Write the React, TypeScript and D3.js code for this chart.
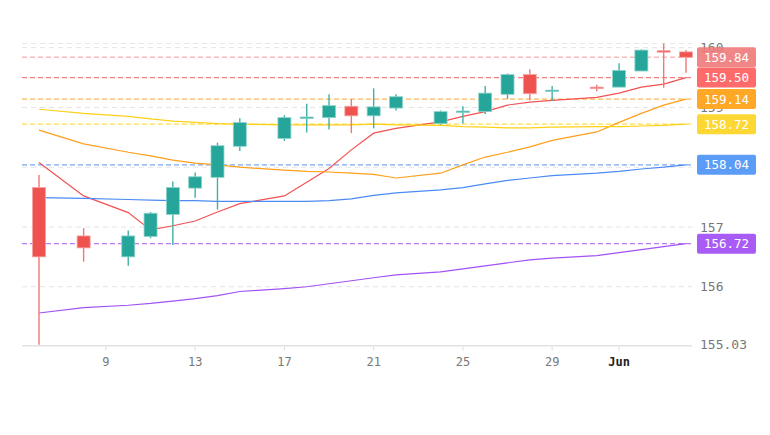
import React from "react";
import * as d3 from "d3";

const width = 770;
const height = 435;

// daily bars
const days = [
  "2024-05-06", "2024-05-08", "2024-05-10", "2024-05-11", "2024-05-12", "2024-05-13",
  "2024-05-14", "2024-05-15", "2024-05-17", "2024-05-18", "2024-05-19", "2024-05-20",
  "2024-05-21", "2024-05-22", "2024-05-24", "2024-05-25", "2024-05-26", "2024-05-27",
  "2024-05-28", "2024-05-29", "2024-05-31", "2024-06-01", "2024-06-02", "2024-06-03",
  "2024-06-04",
];
const opens = [157.66, 156.85, 156.5, 156.84, 157.21, 157.65, 157.83, 158.35, 158.48, 158.82, 158.83, 159.02, 158.86, 158.99, 158.73, 158.92, 158.93, 159.22, 159.55, 159.27, 159.34, 159.34, 159.61, 159.95, 159.93];
const highs = [157.87, 156.98, 156.94, 157.25, 157.76, 157.91, 158.41, 158.82, 158.87, 159.06, 159.22, 159.14, 159.32, 159.22, 158.95, 159.02, 159.36, 159.57, 159.64, 159.36, 159.38, 159.74, 159.97, 160.07, 159.96];
const lows = [155.03, 156.42, 156.35, 156.81, 156.7, 157.49, 157.29, 158.27, 158.44, 158.58, 158.63, 158.57, 158.65, 158.95, 158.71, 158.73, 158.89, 159.14, 159.12, 159.11, 159.27, 159.34, 159.61, 159.33, 159.58];
const closes = [156.5, 156.65, 156.85, 157.23, 157.66, 157.84, 158.36, 158.75, 158.83, 158.84, 159.03, 158.86, 159.01, 159.18, 158.93, 158.94, 159.24, 159.55, 159.23, 159.29, 159.33, 159.62, 159.96, 159.93, 159.84];

// indicator lines
const redLine = [158.08, 157.52, 157.24, 156.95, 157.02, 157.1, 157.25, 157.39, 157.52, 157.75, 157.98, 158.29, 158.57, 158.65, 158.76, 158.85, 158.93, 159.04, 159.09, 159.12, 159.17, 159.24, 159.34, 159.39, 159.5];
const orangeLine = [158.62, 158.39, 158.25, 158.19, 158.12, 158.07, 158.04, 158.0, 157.95, 157.93, 157.92, 157.9, 157.88, 157.82, 157.9, 158.04, 158.17, 158.25, 158.34, 158.45, 158.59, 158.75, 158.9, 159.04, 159.14];
const yellowLine = [158.97, 158.9, 158.85, 158.81, 158.77, 158.75, 158.73, 158.72, 158.71, 158.71, 158.71, 158.71, 158.72, 158.71, 158.7, 158.68, 158.67, 158.66, 158.66, 158.67, 158.68, 158.68, 158.69, 158.7, 158.72];
const blueLine = [157.49, 157.48, 157.46, 157.45, 157.44, 157.44, 157.43, 157.43, 157.43, 157.43, 157.44, 157.47, 157.53, 157.57, 157.62, 157.66, 157.72, 157.78, 157.82, 157.86, 157.9, 157.93, 157.97, 158.0, 158.04];
const purpleLine = [155.56, 155.65, 155.69, 155.72, 155.76, 155.8, 155.85, 155.92, 155.97, 156.0, 156.05, 156.1, 156.15, 156.2, 156.25, 156.3, 156.35, 156.4, 156.45, 156.48, 156.52, 156.57, 156.62, 156.67, 156.72];

const priceTicks = [160, 159, 158, 157, 156, 155.03];
const priceTickLabels = ["160", "159", "158", "157", "156", "155.03"];
const timeTicks = ["2024-05-09", "2024-05-13", "2024-05-17", "2024-05-21", "2024-05-25", "2024-05-29", "2024-06-01"];
const timeTickLabels = ["9", "13", "17", "21", "25", "29", "Jun"];

const series = [
  { name: "red", values: redLine, color: "#f25252", label: "#ff6b6b" },
  { name: "orange", values: orangeLine, color: "#ff9f1c", label: "#ffa726" },
  { name: "yellow", values: yellowLine, color: "#fdd017", label: "#fdd835" },
  { name: "blue", values: blueLine, color: "#4c8bf5", label: "#5b9cf6" },
  { name: "purple", values: purpleLine, color: "#a352f5", label: "#a95cf5" },
];

const parseDate = d3.utcParse("%Y-%m-%d");
const font = "'DejaVu Sans Mono', monospace";

const App = () => {
  const dates = days.map((d) => parseDate(d) as Date);
  const x = d3.scaleUtc().domain([dates[0], dates[dates.length - 1]]).range([39, 686]);
  const y = d3.scaleLinear().domain([155.03, 160]).range([344.7, 47.7]);
  const left = 22;
  const right = 692;
  const bodyW = 13;

  const line = d3
    .line<number>()
    .x((_, i) => x(dates[i]))
    .y((v) => y(v));

  const lastClose = closes[closes.length - 1];
  const priceLines = [
    { value: lastClose, color: "#f07a7a", line: "#f5a3a3", opacity: 0.9 },
    ...series.map((s) => ({ value: s.values[s.values.length - 1], color: s.label, line: s.color, opacity: 1 })),
  ];

  return (
    <svg width={width} height={height} style={{ position: "absolute", left: 0, top: 0, background: "#fff" }}>
      {/* grid */}
      <line x1={left} x2={right} y1={43.5} y2={43.5} stroke="#e6e6e6" strokeDasharray="5,4" />
      {priceTicks.slice(0, 5).map((t) => (
        <line key={t} x1={left} x2={right} y1={y(t)} y2={y(t)} stroke="#e4e4e4" strokeDasharray="5,4" />
      ))}
      <line x1={left} x2={right} y1={y(155.03) + 1} y2={y(155.03) + 1} stroke="#e2e2e2" strokeWidth={1.5} />
      {timeTicks.map((t) => {
        const tx = x(parseDate(t) as Date);
        return <line key={t} x1={tx} x2={tx} y1={y(155.03) + 2} y2={y(155.03) + 6} stroke="#ddd" />;
      })}

      {/* price lines */}
      {priceLines.map((p) => (
        <line
          key={p.color + p.value}
          x1={left}
          x2={right}
          y1={y(p.value)}
          y2={y(p.value)}
          stroke={p.line}
          strokeOpacity={0.75}
          strokeWidth={1.3}
          strokeDasharray="5,3"
        />
      ))}

      {/* indicator lines */}
      {series.map((s) => (
        <path key={s.name} d={line(s.values) || ""} fill="none" stroke={s.color} strokeWidth={1.2} />
      ))}

      {/* candles */}
      {dates.map((d, i) => {
        const up = closes[i] >= opens[i];
        const cx = x(d);
        const top = y(Math.max(opens[i], closes[i]));
        const bot = y(Math.min(opens[i], closes[i]));
        const fill = up ? "#26a69a" : "#ef5350";
        const wick = up ? "#3fb0a5" : "#f27775";
        return (
          <g key={days[i]}>
            <line x1={cx} x2={cx} y1={y(highs[i])} y2={y(lows[i])} stroke={wick} strokeWidth={1.4} />
            <rect
              x={cx - bodyW / 2}
              y={top}
              width={bodyW}
              height={Math.max(bot - top, 1.5)}
              fill={fill}
              stroke={up ? "#8fd3cc" : "#f5a3a2"}
              strokeWidth={0.8}
            />
          </g>
        );
      })}

      {/* price scale labels */}
      {priceTicks.map((t, i) => (
        <text key={t} x={700} y={y(t)} dy="0.35em" fontFamily={font} fontSize={13} fill="#777">
          {priceTickLabels[i]}
        </text>
      ))}
      {priceLines.map((p) => (
        <g key={"lbl" + p.color} transform={`translate(697,${y(p.value)})`} opacity={p.opacity}>
          <rect x={0} y={-10} width={59} height={20} rx={2} fill={p.color} />
          <text x={29.5} dy="0.36em" textAnchor="middle" fontFamily={font} fontSize={12.5} fill="#fff">
            {p.value.toFixed(2)}
          </text>
        </g>
      ))}

      {/* time scale labels */}
      {timeTicks.map((t, i) => (
        <text
          key={t}
          x={x(parseDate(t) as Date)}
          y={362}
          dy="0.35em"
          textAnchor="middle"
          fontFamily={font}
          fontSize={12}
          fontWeight={timeTickLabels[i] === "Jun" ? "bold" : "normal"}
          fill={timeTickLabels[i] === "Jun" ? "#222" : "#777"}
        >
          {timeTickLabels[i]}
        </text>
      ))}
    </svg>
  );
};

export default App;
